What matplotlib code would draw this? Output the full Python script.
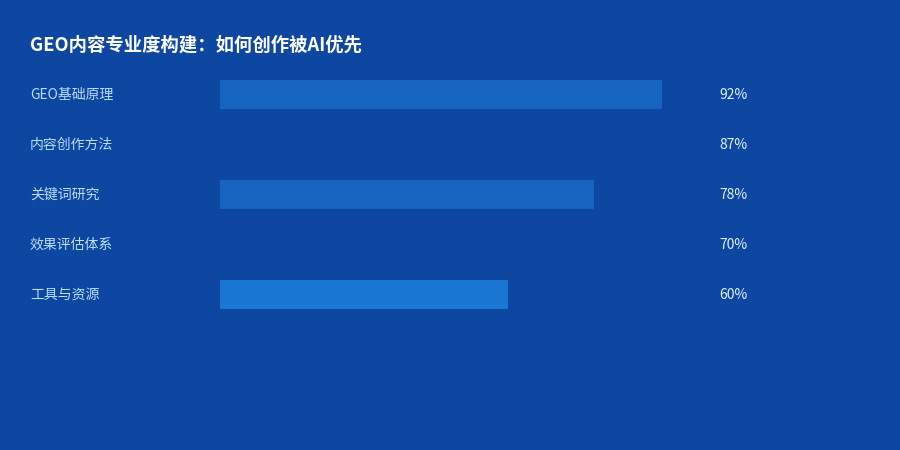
import matplotlib
matplotlib.use("Agg")
import matplotlib.pyplot as plt
import matplotlib.transforms as mtransforms

plt.rcParams['font.family'] = ['Noto Sans CJK SC', 'DejaVu Sans']

# 数据
categories = ['GEO基础原理', '内容创作方法', '关键词研究', '效果评估体系', '工具与资源']
values = [92, 87, 78, 70, 60]
bar_colors = ['#1565c0', '#0d47a1', '#1565c0', '#0d47a1', '#1976d2']
value_labels = [f'{v}%' for v in values]

bg = '#0d47a1'
W, H = 900, 450

fig = plt.figure(figsize=(9, 4.5), dpi=100, facecolor=bg)
# 条形区域: x 220-700 px, 行 69-319 px
ax = fig.add_axes([220 / W, 1 - 319 / H, 480 / W, 250 / H])
ax.set_facecolor(bg)
ax.set_xlim(0, 100)
ax.set_ylim(len(categories) - 0.5, -0.5)
ax.axis('off')

ax.barh(range(len(categories)), values, height=0.58, color=bar_colors, linewidth=0)

trans = mtransforms.blended_transform_factory(fig.transFigure, ax.transData)
for i, (cat, lab) in enumerate(zip(categories, value_labels)):
    ax.text(30 / W, i + 0.02, cat, transform=trans, ha='left', va='center',
            fontsize=10, color='#bbdefb')
    ax.text(719 / W, i + 0.02, lab, transform=trans, ha='left', va='center',
            fontsize=10, color='#e3f2fd')

fig.text(30 / W, 1 - 45 / H, 'GEO内容专业度构建：如何创作被AI优先',
         ha='left', va='center', fontsize=13.2, fontweight='bold', color='white')

fig.savefig('out.png', dpi=100, facecolor=bg)
